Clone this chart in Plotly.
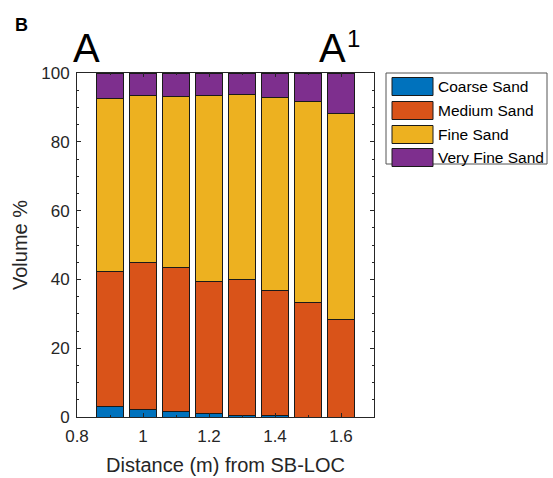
import plotly.graph_objects as go

# Grain-size composition along transect A-A1
distance = [0.9, 1.0, 1.1, 1.2, 1.3, 1.4, 1.5, 1.6]
coarse = [3.1, 2.3, 1.6, 1.0, 0.3, 0.3, 0.0, 0.0]
medium = [39.3, 42.6, 42.0, 38.3, 39.7, 36.4, 33.2, 28.4]
fine = [50.1, 48.6, 49.6, 54.1, 53.8, 56.1, 58.5, 59.9]
very_fine = [7.5, 6.5, 6.8, 6.6, 6.2, 7.2, 8.3, 11.7]

series_names = ["Coarse Sand", "Medium Sand", "Fine Sand", "Very Fine Sand"]
series_values = [coarse, medium, fine, very_fine]
series_colors = ["#0072BD", "#D95319", "#EDB120", "#7E2F8E"]

x_ticks = [0.8, 1.0, 1.2, 1.4, 1.6]
x_tick_text = ["0.8", "1", "1.2", "1.4", "1.6"]
y_ticks = [0, 20, 40, 60, 80, 100]

W, H = 553, 478
L, R, T, B = 77, 374, 73, 417  # plot area in pixels
FONT = "Liberation Sans, Arial, Helvetica, sans-serif"
INK = "#262626"


def px(xp):
    return (xp - L) / (R - L)


def py(yp):
    return (B - yp) / (B - T)


fig = go.Figure()
for name, vals, col in zip(series_names, series_values, series_colors):
    fig.add_trace(go.Bar(
        x=distance, y=vals, name=name, width=0.08,
        marker=dict(color=col, line=dict(color="#1a1a1a", width=1)),
        showlegend=False,
    ))

# Legend box drawn by hand so the swatches are wide rectangles
shapes = [dict(type="rect", xref="paper", yref="paper",
               x0=px(386), x1=px(547), y0=py(164), y1=py(73),
               line=dict(color="#555555", width=1), fillcolor="white", layer="above")]
annotations = []
row_centers = [86.5, 110.5, 134.5, 157.5]
for name, col, yc in zip(series_names, series_colors, row_centers):
    shapes.append(dict(type="rect", xref="paper", yref="paper",
                       x0=px(392), x1=px(433), y0=py(yc + 9), y1=py(yc - 9),
                       line=dict(color="#1a1a1a", width=1), fillcolor=col, layer="above"))
    annotations.append(dict(text=name, xref="paper", yref="paper",
                            x=px(436), y=py(yc), xanchor="left", yanchor="middle",
                            showarrow=False, font=dict(family=FONT, size=15.5, color="black")))

# Panel letter and transect end labels
annotations += [
    dict(text="<b>B</b>", xref="paper", yref="paper", x=px(21), y=py(25),
         xanchor="center", yanchor="middle", showarrow=False,
         font=dict(family=FONT, size=18, color="black")),
    dict(text="A", xref="paper", yref="paper", x=px(86), y=py(48),
         xanchor="center", yanchor="middle", showarrow=False,
         font=dict(family=FONT, size=40, color="black")),
    dict(text="A", xref="paper", yref="paper", x=px(332.5), y=py(48),
         xanchor="center", yanchor="middle", showarrow=False,
         font=dict(family=FONT, size=40, color="black")),
    dict(text="1", xref="paper", yref="paper", x=px(345), y=py(38),
         xanchor="left", yanchor="middle", showarrow=False,
         font=dict(family=FONT, size=24, color="black")),
]

fig.update_layout(
    width=W, height=H,
    margin=dict(l=L, r=W - R, t=T, b=H - B, pad=0),
    barmode="stack",
    paper_bgcolor="white", plot_bgcolor="white",
    font=dict(family=FONT, color=INK),
    shapes=shapes, annotations=annotations,
    showlegend=False,
)
fig.update_xaxes(
    range=[0.8, 1.7], tickvals=x_ticks, ticktext=x_tick_text,
    ticks="inside", ticklen=4, tickcolor=INK,
    minor=dict(dtick=0.1, tick0=0.8, ticks="inside", ticklen=2, tickcolor=INK),
    showline=True, linecolor=INK, linewidth=1, mirror="ticks",
    showgrid=False, zeroline=False, automargin=False,
    tickfont=dict(size=17, color=INK), ticklabelstandoff=4,
    title=dict(text="Distance (m) from SB-LOC", font=dict(size=20, color=INK), standoff=12),
)
fig.update_yaxes(
    range=[0, 100], tickvals=y_ticks,
    ticks="inside", ticklen=4, tickcolor=INK,
    minor=dict(dtick=5, ticks="inside", ticklen=2, tickcolor=INK),
    showline=True, linecolor=INK, linewidth=1, mirror="ticks",
    showgrid=False, zeroline=False, automargin=False,
    tickfont=dict(size=17, color=INK), ticklabelstandoff=3,
    title=dict(text="Volume %", font=dict(size=20, color=INK), standoff=8),
)

fig.write_html("out.html")
